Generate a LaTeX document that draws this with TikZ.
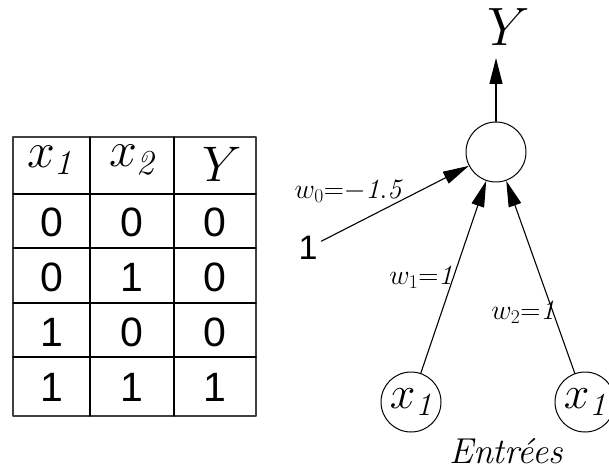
\documentclass[tikz,border=0pt]{standalone}
\usepackage{fix-cm}
\usepackage{fontspec}
\usepackage{amsmath}
\newfontfamily\tabfont{Liberation Sans}
\usepackage{tikz}
\usetikzlibrary{arrows.meta}
\tikzset{neuron/.style={circle, draw, line width=1pt, minimum size=60pt, inner sep=0pt},
  cell/.style={font=\tabfont\fontsize{41}{41}\selectfont},
  head/.style={font=\fontsize{50}{50}\selectfont},
  weight/.style={font=\fontsize{28}{28}\selectfont}}

\begin{document}
\begin{tikzpicture}[x=1pt, y=-1pt, line cap=round, line join=round,
      >={Triangle[length=26pt, width=13pt]}, line width=1.1pt]
      \useasboundingbox (0,0) rectangle (609,470);
      \clip (0,0) rectangle (609,470);
      % truth table
      \draw [black!75] (13,137) rectangle (256,416);
      \foreach \y in {194,248,303,357} \draw (13,\y) -- (256,\y);
      \foreach \x in {90,174} \draw (\x,137) -- (\x,416);
      \node [head] (hx1) at (50,160) {$x_{\mathit{1}}$};
      \node [head] (hx2) at (132,160) {$x_{\mathit{2}}$};
      \node [head] (hy) at (222,164) {$Y$};
      \foreach \a/\b/\c [count=\r] in {0/0/0, 0/1/0, 1/0/0, 1/1/1} {
        \node [cell] (a\r) at (52,167+\r*55) {\a};
        \node [cell] (b\r) at (132,167+\r*55) {\b};
        \node [cell] (c\r) at (215,167+\r*55) {\c};
      }
      % neurone
      \node [neuron] (s) at (496,152) {};
      \node [neuron, font=\fontsize{46}{46}\selectfont] (e1) at (411,402) {$x_{\mathit{1}}$};
      \node [neuron, font=\fontsize{46}{46}\selectfont] (e2) at (585,402) {$x_{\mathit{1}}$};
      \node [font=\fontsize{54}{54}\selectfont] (yout) at (509,27) {$Y$};
      \coordinate (tip) at (496,58);
      \node [font=\tabfont\fontsize{34}{34}\selectfont] (one) at (308,248) {1};
      \draw [->] (s) -- (tip);
      \draw [->] (one) -- (s);
      \draw [->] (e1) -- (s);
      \draw [->] (e2) -- (s);
      \node [weight] (w0) at (348,191) {$w_0{=}{-}\mathit{1.5}$};
      \node [weight] (w1) at (421,277) {$w_1{=}\mathit{1}$};
      \node [weight] (w2) at (523,312) {$w_2{=}\mathit{1}$};
      \node [font=\itshape\fontsize{36}{36}\selectfont, inner sep=0pt] (entrees) at (506,451) {Entrées};
    \end{tikzpicture}
\end{document}
